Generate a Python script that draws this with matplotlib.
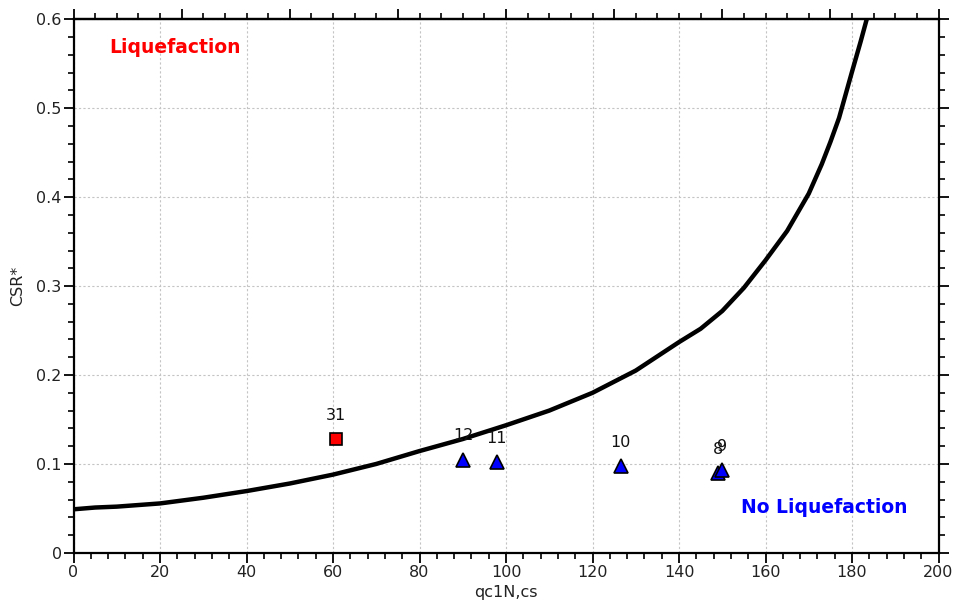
import matplotlib
matplotlib.use("Agg")
import matplotlib.pyplot as plt
from matplotlib.ticker import MultipleLocator

# Boundary curve
curve_qc = [0, 5, 10, 20, 30, 40, 50, 60, 70, 80, 90, 100, 110, 120, 130,
            140, 145, 150, 155, 160, 165, 170, 173, 175, 177, 180, 182, 183.4]
curve_csr = [0.049, 0.051, 0.052, 0.0556, 0.062, 0.0695, 0.078, 0.088, 0.100,
             0.1145, 0.128, 0.1435, 0.160, 0.180, 0.205, 0.237, 0.252, 0.272,
             0.298, 0.329, 0.362, 0.404, 0.437, 0.462, 0.489, 0.541, 0.575, 0.600]

# Site points
liq_ids = ["31"]
liq_qc = [60.7]
liq_csr = [0.128]

noliq_ids = ["12", "11", "10", "8", "9"]
noliq_qc = [90.1, 97.9, 126.5, 149.1, 149.9]
noliq_csr = [0.105, 0.1025, 0.0976, 0.0894, 0.093]

fig = plt.figure(figsize=(9.56, 6.12), dpi=100)
ax = fig.add_axes([0.0769, 0.0966, 0.9048, 0.8719])

ax.plot(curve_qc, curve_csr, color="black", lw=3.2, solid_capstyle="butt",
        solid_joinstyle="round", zorder=3)

ax.plot(liq_qc, liq_csr, ls="none", marker="s", ms=9, mfc="#ff0000",
        mec="black", mew=1.2, zorder=4)
ax.plot(noliq_qc, noliq_csr, ls="none", marker="^", ms=10, mfc="#0000ff",
        mec="black", mew=1.2, zorder=4)

for lab, x, y in zip(liq_ids + noliq_ids, liq_qc + noliq_qc, liq_csr + noliq_csr):
    ax.annotate(lab, (x, y), xytext=(0, 17), textcoords="offset points",
                ha="center", va="center", fontsize=11.5, color="#111111", zorder=5)

ax.text(0.117, 0.947, "Liquefaction", transform=ax.transAxes, color="#ff0000",
        fontsize=13.5, fontweight="bold", ha="center", va="center")
ax.text(0.868, 0.085, "No Liquefaction", transform=ax.transAxes, color="#0000ff",
        fontsize=13.5, fontweight="bold", ha="center", va="center")

ax.set_xlim(0, 200)
ax.set_ylim(0, 0.6)
ax.xaxis.set_major_locator(MultipleLocator(20))
ax.xaxis.set_minor_locator(MultipleLocator(4))
ax.yaxis.set_major_locator(MultipleLocator(0.1))
ax.yaxis.set_minor_locator(MultipleLocator(0.02))
ax.set_yticklabels(["0" if abs(v) < 1e-9 else f"{v:.1f}" for v in ax.get_yticks()])

ax.grid(True, which="major", color="#c4c4c4", ls=(0, (2, 2)), lw=0.8)
ax.set_axisbelow(True)

for s in ax.spines.values():
    s.set_linewidth(1.6)

ax.tick_params(which="major", direction="out", length=7, width=1.3,
               labelsize=11.5, pad=1.5, colors="black", labelcolor="#222222")
ax.tick_params(which="minor", direction="out", length=4.5, width=1.2)
ax.tick_params(axis="y", which="both", right=True)

# top axis has its own tick spacing
top = ax.secondary_xaxis("top")
top.xaxis.set_major_locator(MultipleLocator(25))
top.xaxis.set_minor_locator(MultipleLocator(5))
top.tick_params(which="major", direction="out", length=7, width=1.3, labeltop=False)
top.tick_params(which="minor", direction="out", length=4.5, width=1.2)
top.spines["top"].set_linewidth(1.6)

ax.set_xlabel("qc1N,cs", fontsize=11.5, color="#222222", labelpad=4)
ax.set_ylabel("CSR*", fontsize=11.5, color="#222222", labelpad=8)

fig.savefig("out.png", dpi=100)
